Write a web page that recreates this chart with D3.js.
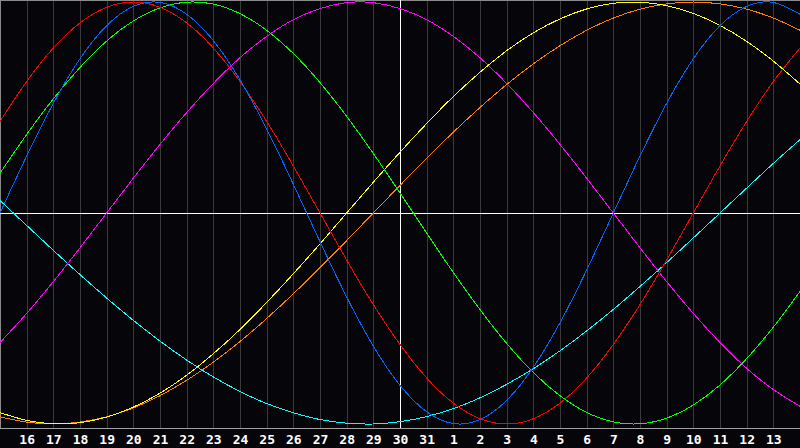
<!DOCTYPE html>
<html><head><meta charset="utf-8">
<script src="https://cdn.jsdelivr.net/npm/d3@7"></script>
<style>html,body{margin:0;padding:0;background:#060509;overflow:hidden}</style></head>
<body><svg id="chart" width="800" height="448"></svg>
<script>
// Day labels (index 0 = left edge, 30 = right edge)
const days = [15,16,17,18,19,20,21,22,23,24,25,26,27,28,29,30,31,1,2,3,4,5,6,7,8,9,10,11,12,13,14];
// Cycle values per day (x1000)
const red    = [434,623,782,901,975,1000,975,901,782,623,434,223,0,-223,-434,-623,-782,-901,-975,-1000,-975,-901,-782,-623,-434,-223,0,223,434,623,782];
const blue   = [0,270,520,731,888,979,998,942,817,631,398,136,-136,-398,-631,-817,-942,-998,-979,-888,-731,-520,-270,0,270,520,731,888,979,998,942];
const green  = [189,372,541,690,815,910,972,999,990,945,866,756,618,458,282,95,-95,-282,-458,-618,-756,-866,-945,-990,-999,-972,-910,-815,-690,-541,-372];
const magenta= [-614,-476,-325,-165,0,165,325,476,614,736,837,916,969,997,997,969,916,837,736,614,476,325,165,0,-165,-325,-476,-614,-736,-837,-916];
const yellow = [-946,-983,-999,-994,-967,-920,-854,-769,-667,-552,-424,-288,-146,0,146,288,424,552,667,769,854,920,967,994,999,983,946,889,813,720,611];
const orange = [-966,-991,-1000,-991,-966,-924,-866,-793,-707,-609,-500,-383,-259,-131,0,131,259,383,500,609,707,793,866,924,966,991,1000,991,966,924,866];
const cyan   = [59,-59,-177,-292,-403,-509,-607,-697,-777,-846,-903,-947,-979,-996,-1000,-989,-965,-927,-876,-812,-738,-653,-559,-457,-348,-235,-118,0,118,235,348];

const series = [
  {name:"cyan", values:cyan, color:"#00ffff"},
  {name:"magenta", values:magenta, color:"#ff00ff"},
  {name:"orange", values:orange, color:"#ff8000"},
  {name:"yellow", values:yellow, color:"#ffff00"},
  {name:"green", values:green, color:"#00ff00"},
  {name:"red", values:red, color:"#ff0000"},
  {name:"blue", values:blue, color:"#0066ff"}
];

const W = 800, plotH = 428;
const svg = d3.select("#chart");
svg.append("rect").attr("width",800).attr("height",448).attr("fill","#060509");

const x = d3.scaleLinear().domain([0, days.length-1]).range([0, W]);
const y = d3.scaleLinear().domain([-1000, 1000]).range([424, 2]);

// vertical grid
const gridIdx = d3.range(1, days.length-1);
svg.append("g").attr("transform",`translate(0,${plotH})`)
  .call(d3.axisBottom(x).tickValues(gridIdx).tickSize(-plotH).tickFormat(""))
  .call(g=>g.select(".domain").remove())
  .call(g=>g.selectAll(".tick line").attr("stroke", d=>d===15?"#ffffff":"#3a3a3a").attr("stroke-width",1).attr("shape-rendering","crispEdges"));

// borders
svg.append("line").attr("x1",0.5).attr("x2",0.5).attr("y1",0).attr("y2",plotH).attr("stroke","#8a8a8a").attr("shape-rendering","crispEdges");
svg.append("line").attr("x1",0).attr("x2",W).attr("y1",0.5).attr("y2",0.5).attr("stroke","#8a8a8a").attr("shape-rendering","crispEdges");
svg.append("line").attr("x1",0).attr("x2",W).attr("y1",plotH+0.5).attr("y2",plotH+0.5).attr("stroke","#a0a0a0").attr("shape-rendering","crispEdges");

// horizontal zero line
svg.append("line").attr("x1",0).attr("x2",W).attr("y1",y(0)+0.5).attr("y2",y(0)+0.5).attr("stroke","#ffffff").attr("shape-rendering","crispEdges");
// centre line on top of grid
svg.append("line").attr("x1",x(15)+0.5).attr("x2",x(15)+0.5).attr("y1",0).attr("y2",plotH).attr("stroke","#ffffff").attr("shape-rendering","crispEdges");

// curves
const line = d3.line().x((d,i)=>x(i)).y(d=>y(d)).curve(d3.curveNatural);
svg.append("g").selectAll("path").data(series).join("path")
  .attr("d", d=>line(d.values))
  .attr("fill","none").attr("stroke",d=>d.color).attr("stroke-width",1)
  .attr("shape-rendering","crispEdges");

// labels
svg.append("g").attr("transform",`translate(0,${plotH})`)
  .call(d3.axisBottom(x).tickValues(gridIdx).tickSize(0).tickPadding(4).tickFormat(i=>days[i]))
  .call(g=>g.select(".domain").remove())
  .call(g=>g.selectAll(".tick text").attr("fill","#ffffff").attr("font-family","DejaVu Sans Mono, monospace").attr("font-weight","bold").attr("font-size",13).attr("dy","0.9em"));
</script></body></html>
